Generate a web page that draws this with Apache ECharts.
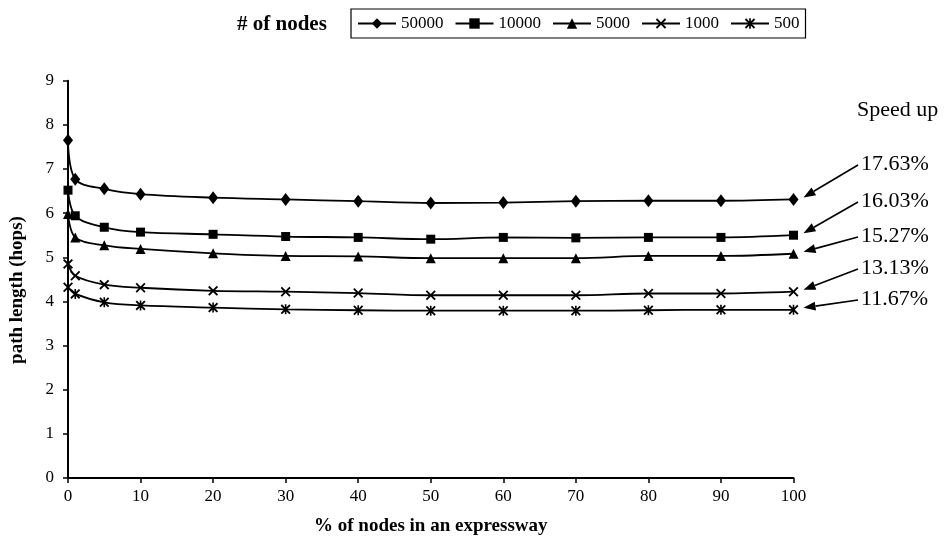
<!DOCTYPE html>
<html>
<head>
<meta charset="utf-8">
<script src="https://cdn.jsdelivr.net/npm/echarts@6/dist/echarts.min.js"></script>
<style>
  html, body { margin: 0; padding: 0; background: #fff; }
  #chart { width: 945px; height: 541px; }
</style>
</head>
<body>
<div id="chart"></div>
<script>
// 数据部分
const xVals = [0, 1, 5, 10, 20, 30, 40, 50, 60, 70, 80, 90, 100];
const seriesNames = ["50000", "10000", "5000", "1000", "500"];
const n50000 = [7.65, 6.77, 6.55, 6.43, 6.35, 6.31, 6.27, 6.23, 6.24, 6.27, 6.28, 6.28, 6.31];
const n10000 = [6.52, 5.94, 5.68, 5.57, 5.52, 5.47, 5.45, 5.41, 5.45, 5.44, 5.45, 5.45, 5.5];
const n5000 = [5.98, 5.45, 5.27, 5.19, 5.09, 5.03, 5.02, 4.98, 4.98, 4.98, 5.03, 5.03, 5.08];
const n1000 = [4.85, 4.58, 4.38, 4.31, 4.24, 4.22, 4.19, 4.14, 4.14, 4.14, 4.18, 4.18, 4.22];
const n500 = [4.32, 4.17, 3.98, 3.91, 3.86, 3.82, 3.8, 3.79, 3.79, 3.79, 3.8, 3.81, 3.81];
const speedUp = ["17.63%", "16.03%", "15.27%", "13.13%", "11.67%"];

const allValues = [n50000, n10000, n5000, n1000, n500];
const font = "Liberation Serif";

// 各条线的标记
const crossPath = "path://M0,1.3 L1.3,0 L5,3.7 L8.7,0 L10,1.3 L6.3,5 L10,8.7 L8.7,10 L5,6.3 L1.3,10 L0,8.7 L3.7,5 Z";
const starPath = crossPath + " M4.2,0 L5.8,0 L5.8,10 L4.2,10 Z";
const symbols = ["diamond", "rect", "triangle", crossPath, starPath];
const symbolSizes = [[10, 13], 9, 10, 10, 10];

const chart = echarts.init(document.getElementById("chart"));

const seriesArr = allValues.map((vals, i) => ({
  name: seriesNames[i],
  type: "line",
  data: xVals.map((x, j) => [x, vals[j]]),
  smooth: 0.35,
  symbol: symbols[i],
  symbolSize: symbolSizes[i],
  showAllSymbol: true,
  lineStyle: { color: "#000", width: 1.8 },
  itemStyle: { color: "#000", borderWidth: 0 },
  emphasis: { disabled: true },
  animation: false,
}));

const option = {
  backgroundColor: "#fff",
  animation: false,
  grid: { left: 68, right: 151.5, top: 80.7, bottom: 61.7 },
  legend: {
    data: seriesNames,
    left: 351,
    top: 9,
    orient: "horizontal",
    itemWidth: 38,
    itemHeight: 13,
    itemGap: 11,
    padding: [6, 6, 6, 6],
    borderColor: "#000",
    borderWidth: 1.2,
    textStyle: { fontFamily: font, fontSize: 17, color: "#000" },
  },
  xAxis: {
    type: "value",
    min: 0,
    max: 100,
    interval: 10,
    name: "% of nodes in an expressway",
    nameLocation: "middle",
    nameGap: 39,
    nameTextStyle: { fontFamily: font, fontSize: 19, fontWeight: "bold", color: "#000" },
    axisLine: { lineStyle: { color: "#000", width: 2 } },
    axisTick: { length: 5, lineStyle: { color: "#000", width: 1.5 } },
    axisLabel: { fontFamily: font, fontSize: 17, color: "#000", margin: 10 },
    splitLine: { show: false },
  },
  yAxis: {
    type: "value",
    min: 0,
    max: 9,
    interval: 1,
    axisLine: { show: true, lineStyle: { color: "#000", width: 2 } },
    axisTick: { show: true, length: 5, lineStyle: { color: "#000", width: 1.5 } },
    axisLabel: { fontFamily: font, fontSize: 17, color: "#000", margin: 14 },
    splitLine: { show: false },
  },
  series: seriesArr,
};
chart.setOption(option);

// 注释：标题、加速比、箭头
const labelYs = [164, 201, 236, 268, 299];
const graphics = [
  {
    type: "text", x: 237, y: 25,
    style: { text: "# of nodes", font: "bold 21px " + font, fill: "#000", verticalAlign: "middle" },
  },
  {
    type: "text", x: 17, y: 290, rotation: Math.PI / 2,
    style: { text: "path length (hops)", font: "bold 19px " + font, fill: "#000", align: "center", verticalAlign: "middle" },
  },
  {
    type: "text", x: 857, y: 110,
    style: { text: "Speed up", font: "22px " + font, fill: "#000", verticalAlign: "middle" },
  },
];
speedUp.forEach((txt, i) => {
  const ly = labelYs[i];
  graphics.push({
    type: "text", x: 861, y: ly,
    style: { text: txt, font: "22px " + font, fill: "#000", verticalAlign: "middle" },
  });
  const vals = allValues[i];
  const p = chart.convertToPixel({ xAxisIndex: 0, yAxisIndex: 0 }, [xVals[xVals.length - 1], vals[vals.length - 1]]);
  const tip = [p[0] + 10, p[1] - 2];
  const start = [858, ly + 1];
  let dx = tip[0] - start[0], dy = tip[1] - start[1];
  const len = Math.sqrt(dx * dx + dy * dy);
  dx /= len; dy /= len;
  const base = [tip[0] - dx * 12, tip[1] - dy * 12];
  const nx = -dy * 4.5, ny = dx * 4.5;
  graphics.push({
    type: "line",
    shape: { x1: start[0], y1: start[1], x2: base[0], y2: base[1] },
    style: { stroke: "#000", lineWidth: 1.6 },
  });
  graphics.push({
    type: "polygon",
    shape: { points: [tip, [base[0] + nx, base[1] + ny], [base[0] - nx, base[1] - ny]] },
    style: { fill: "#000" },
  });
});
chart.setOption({ graphic: graphics });
</script>
</body>
</html>
